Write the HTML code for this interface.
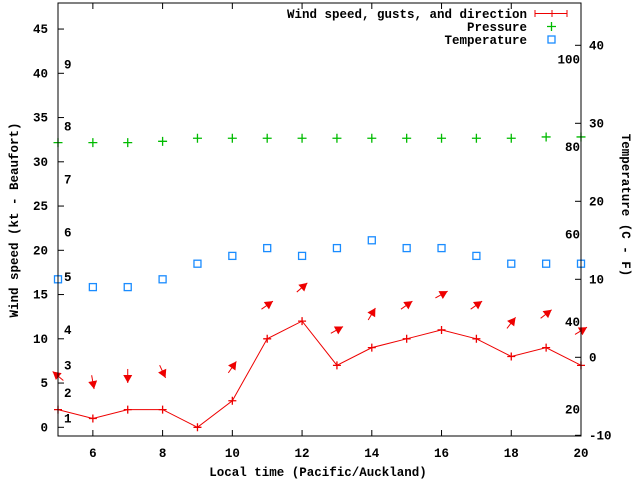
<!DOCTYPE html>
<html><head><meta charset="utf-8"><style>
html,body{margin:0;padding:0;background:#fff;}
svg text{font-family:"Liberation Mono","DejaVu Sans Mono",monospace;font-size:12.5px;font-weight:bold;fill:#000;}
</style></head><body>
<svg id="chart" width="640" height="480" xmlns="http://www.w3.org/2000/svg">
<rect width="640" height="480" fill="#fff"/>
<g id="grid"></g>
<g id="marks"></g>
<g id="labels"></g>
<rect x="58" y="3" width="523" height="433" fill="none" stroke="#000" stroke-width="1"/>
<text x="318" y="476" text-anchor="middle">Local time (Pacific/Auckland)</text>
<text transform="translate(18,220) rotate(-90)" text-anchor="middle">Wind speed (kt - Beaufort)</text>
<text transform="translate(622,205) rotate(90)" text-anchor="middle">Temperature (C - F)</text>
<g>
<text x="527" y="18" text-anchor="end">Wind speed, gusts, and direction</text>
<path d="M535 13.5H567M535 10v7M567 10v7M552 10v7" stroke="#e00" stroke-width="1" fill="none"/>
<text x="527" y="31" text-anchor="end">Pressure</text>
<path d="M547 26.5h9M551.5 22v9" stroke="#0b0" stroke-width="1.3"/>
<text x="527" y="44" text-anchor="end">Temperature</text>
<rect x="548" y="36" width="7" height="7" fill="none" stroke="#1a8cff" stroke-width="1.3"/>
</g>
</svg>
<script>
const hours=[5,6,7,8,9,10,11,12,13,14,15,16,17,18,19,20];
const windSpeed=[2,1,2,2,0,3,10,12,7,9,10,11,10,8,9,7];
const gustHours=[5,6,7,8,10,11,12,13,14,15,16,17,18,19,20];
const gusts=[5.8,5.1,5.8,6.3,6.8,13.8,15.8,11.0,12.8,13.8,15.0,13.8,11.8,12.8,10.9];
const gustDir=[310,170,180,155,35,55,49,61,31,55,61,55,38,52,59];
const pressure=[81.0,81.0,81.0,81.3,82.0,82.0,82.0,82.0,82.0,82.0,82.0,82.0,82.0,82.0,82.3,82.3];
const temperature=[10,9,9,10,12,13,14,13,14,15,14,14,13,12,12,12];
const xTicks=[6,8,10,12,14,16,18,20];
const yTicks=[0,5,10,15,20,25,30,35,40,45];
const y2Ticks=[-10,0,10,20,30,40];
const beaufortLabels=["1","2","3","4","5","6","7","8","9"];
const beaufortPos=[1.0,3.9,7.0,11.0,17.0,22.0,28.0,34.0,41.0];
const fahrenheitLabels=["20","40","60","80","100"];
const fahrenheitVals=[20,40,60,80,100];

const NS="http://www.w3.org/2000/svg";
const X=v=>58+(v-5)*(523/15);
const Y=v=>427.3-v*8.85;
const Y2=v=>357.3-v*7.8;
const YP=v=>147-(v-80)*4.375;
const g=document.getElementById('grid'),m=document.getElementById('marks'),L=document.getElementById('labels');
function mk(t,a,p){const e=document.createElementNS(NS,t);for(const k in a)e.setAttribute(k,a[k]);p.appendChild(e);return e;}

xTicks.forEach(t=>{
  const l=mk('path',{d:`M${X(t)} 436v-6M${X(t)} 3v6`,stroke:'#000'},g);
  
  
  const tx=mk('text',{x:X(t),y:457,'text-anchor':'middle'},L);tx.textContent=t;
  
  
});
yTicks.forEach(t=>{
  const l=mk('path',{d:`M58 ${Y(t)}h6`,stroke:'#000'},g);
  
  
  const tx=mk('text',{x:48,y:Y(t)+4,'text-anchor':'end'},L);tx.textContent=t;
  
  
});
y2Ticks.forEach(t=>{
  const l=mk('path',{d:`M581 ${Y2(t)}h-6`,stroke:'#000'},g);
  
  
  const tx=mk('text',{x:589,y:Y2(t)+4},L);tx.textContent=t;
  
  
});
beaufortLabels.forEach((s,i)=>{
  const tx=mk('text',{x:64,y:Y(beaufortPos[i])+4},L);tx.textContent=s;
  
  
});
fahrenheitLabels.forEach((s,i)=>{
  const tx=mk('text',{x:580,y:YP(fahrenheitVals[i])+4,'text-anchor':'end'},L);tx.textContent=s;
  
  
});

const pl=mk('polyline',{points:hours.map((h,i)=>X(h)+','+Y(windSpeed[i])).join(' '),fill:'none',stroke:'#e00','stroke-width':1},m);


hours.forEach((h,i)=>{
  const p=mk('path',{d:`M${X(h)-4} ${Y(windSpeed[i])}h8M${X(h)} ${Y(windSpeed[i])-4}v8`,stroke:'#e00','stroke-width':1.3},m);
  
  
});
gustHours.forEach((h,i)=>{
  const cx=X(h),cy=Y(gusts[i]),a=gustDir[i]*Math.PI/180,len=14;
  const dx=Math.sin(a)*len/2,dy=-Math.cos(a)*len/2;
  const tx=cx-dx,ty=cy-dy,hx=cx+dx,hy=cy+dy;
  const ux=dx/(len/2),uy=dy/(len/2),bx=hx-ux*8,by=hy-uy*8;
  const grp=mk('g',{},m);
  
  
  mk('line',{x1:tx,y1:ty,x2:hx,y2:hy,stroke:'#e00','stroke-width':1},grp);
  mk('polygon',{points:`${hx},${hy} ${bx-uy*4.5},${by+ux*4.5} ${bx+uy*4.5},${by-ux*4.5}`,fill:'#e00'},grp);
});
hours.forEach((h,i)=>{
  const y=YP(pressure[i]);
  const p=mk('path',{d:`M${X(h)-4.5} ${y}h9M${X(h)} ${y-4.5}v9`,stroke:'#0b0','stroke-width':1.3},m);
  
  
});
hours.forEach((h,i)=>{
  const r=mk('rect',{x:X(h)-3.5,y:Y2(temperature[i])-3.5,width:7,height:7,fill:'none',stroke:'#1a8cff','stroke-width':1.3},m);
  
  
});
</script>
</body></html>
